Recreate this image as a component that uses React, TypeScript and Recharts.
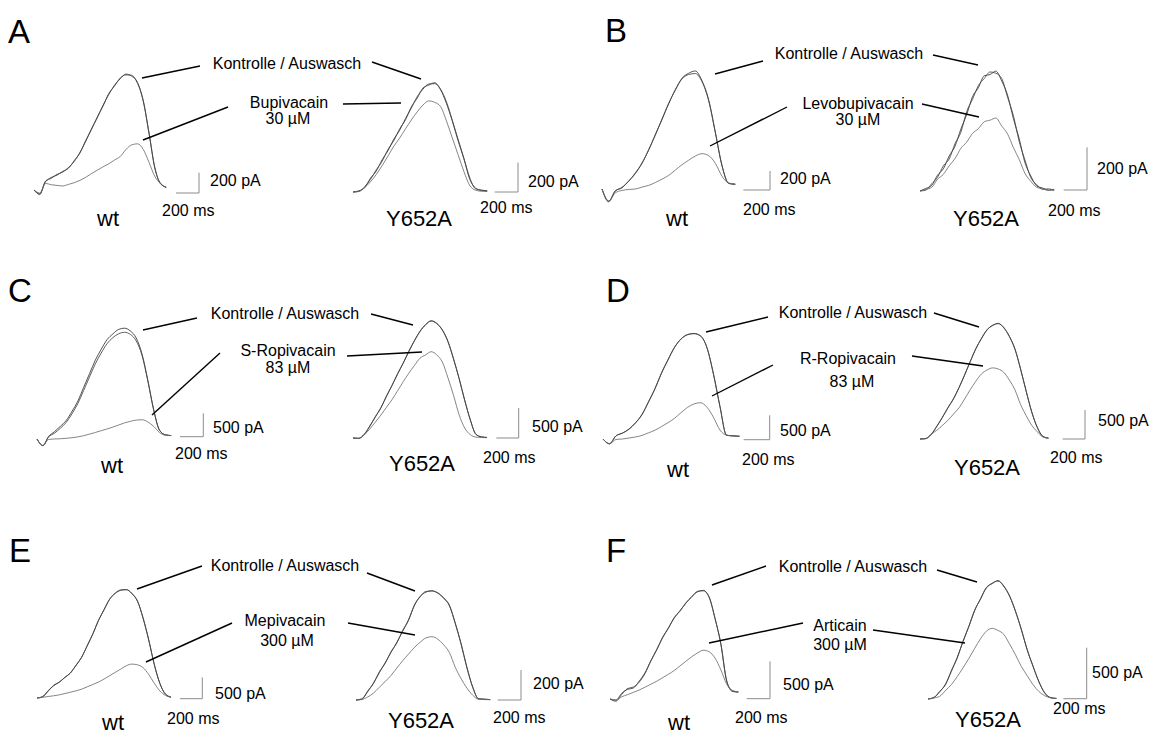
import { LineChart, Line, XAxis, YAxis, ReferenceLine } from "recharts";

// shared sampling grid of the ramp recordings (ms)
const TIME_MS = [0, 50, 100, 150, 200, 250, 300, 350, 400, 450, 500, 550, 600, 650, 700, 750, 800, 850, 900, 950, 1000, 1050, 1100, 1150, 1200];

const PANEL_LETTERS = ["A", "B", "C", "D", "E", "F"];
const DRUGS = ["Bupivacain", "Levobupivacain", "S-Ropivacain", "R-Ropivacain", "Mepivacain", "Articain"];
const CONCENTRATIONS = ["30 µM", "30 µM", "83 µM", "83 µM", "300 µM", "300 µM"];
const CELL_NAMES = ["wt", "Y652A"];
const CONTROL_LABEL = "Kontrolle / Auswasch";
const TIME_BAR_MS = 200;
// current scale bars (pA) for [wt, Y652A] in each panel
const CURRENT_BARS_PA = [[200, 200], [200, 200], [500, 500], [500, 500], [500, 200], [500, 500]];

// currents in pA, sampled on TIME_MS
const A_WT_CTRL = [0, -45, 88, 115, 154, 176, 222, 282, 372, 480, 604, 711, 834, 941, 1032, 1096, 1142, 1121, 1060, 872, 565, 218, 66, 25];
const A_WT_WASH = [0, -35, 80, 124, 146, 184, 214, 290, 365, 489, 595, 720, 826, 950, 1024, 1104, 1134, 1130, 1050, 884, 556, 226, 60, 30];
const A_WT_DRUG = [0, -30, 65, 52, 45, 40, 55, 72, 95, 125, 162, 195, 228, 258, 295, 330, 400, 445, 455, 400, 273, 135, 65, 25];
const A_Y_CTRL = [0, 8, 30, 94, 143, 220, 281, 360, 420, 500, 571, 648, 700, 735, 737, 696, 604, 486, 350, 227, 88, 27, 10, 9];
const A_Y_WASH = [0, 3, 36, 86, 152, 210, 290, 350, 430, 491, 580, 638, 708, 727, 744, 700, 615, 490, 360, 230, 98, 22, 14, 6];
const A_Y_DRUG = [0, 5, 30, 70, 120, 180, 245, 312, 367, 430, 490, 545, 592, 620, 610, 582, 485, 370, 255, 140, 45, 12, 5, 3];

const B_WT_CTRL = [0, -135, -18, 12, 85, 162, 275, 408, 574, 730, 902, 1040, 1166, 1218, 1242, 1140, 940, 600, 250, 58, 48];
const B_WT_WASH = [0, -125, -22, 18, 80, 170, 268, 415, 566, 738, 895, 1047, 1158, 1205, 1215, 1130, 930, 595, 245, 62, 52];
const B_WT_DRUG = [0, -130, -40, -15, -5, 0, 20, 38, 68, 103, 143, 199, 255, 303, 347, 372, 351, 271, 135, 62, 50];
const B_Y_CTRL = [0, 12, 26, 74, 104, 164, 210, 290, 358, 442, 484, 540, 546, 562, 516, 450, 340, 245, 132, 70, 24, 14, 4, 8];
const B_Y_WASH = [0, 4, 34, 64, 118, 150, 222, 275, 372, 430, 494, 527, 558, 552, 528, 440, 354, 232, 144, 62, 30, 8, 10, 2];
const B_Y_DRUG = [0, 7, 17, 55, 78, 118, 152, 200, 229, 270, 292, 324, 332, 342, 305, 268, 204, 148, 82, 45, 17, 10, 3, 5];

const C_WT_CTRL = [0, -140, 58, 157, 271, 396, 592, 812, 1106, 1398, 1689, 1920, 2126, 2250, 2347, 2373, 2313, 2163, 1819, 1255, 627, 189, 91, 74];
const C_WT_WASH = [0, -140, 45, 125, 230, 355, 540, 760, 1040, 1330, 1610, 1840, 2040, 2170, 2255, 2285, 2240, 2100, 1790, 1240, 620, 185, 90, 73];
const C_WT_DRUG = [0, -140, -10, 0, 5, 15, 28, 45, 71, 105, 140, 178, 214, 255, 300, 345, 378, 405, 412, 365, 270, 138, 80, 72];
const C_Y_CTRL = [0, -5, 57, 199, 349, 508, 695, 882, 1068, 1254, 1440, 1625, 1774, 1892, 1949, 1906, 1804, 1605, 1322, 988, 633, 301, 65, 18, 10];
const C_Y_WASH = [0, -8, 62, 192, 356, 500, 702, 875, 1075, 1246, 1448, 1618, 1782, 1885, 1955, 1912, 1796, 1612, 1315, 995, 626, 308, 60, 20, 8];
const C_Y_DRUG = [0, -5, 50, 150, 265, 383, 512, 641, 789, 940, 1081, 1208, 1331, 1385, 1438, 1385, 1265, 1004, 712, 388, 167, 56, 15, 8, 5];

const D_WT_CTRL = [0, -100, 66, 119, 205, 328, 506, 758, 1038, 1349, 1629, 1877, 2055, 2140, 2168, 2115, 1876, 1327, 668, 77, 66, 55];
const D_WT_WASH = [0, -95, 62, 124, 200, 335, 498, 765, 1030, 1357, 1622, 1884, 2050, 2146, 2162, 2120, 1870, 1334, 660, 80, 63, 57];
const D_WT_DRUG = [0, -100, -10, 0, 20, 41, 74, 127, 180, 255, 335, 424, 541, 649, 720, 745, 651, 444, 183, 78, 62, 55];
const D_Y_CTRL = [0, 8, 81, 214, 375, 536, 697, 886, 1110, 1334, 1560, 1729, 1885, 1955, 1995, 1916, 1772, 1548, 1212, 825, 471, 197, 50, 12];
const D_Y_WASH = [0, 6, 76, 220, 368, 542, 690, 893, 1102, 1340, 1552, 1736, 1878, 1962, 1988, 1924, 1765, 1555, 1205, 832, 464, 204, 40, 18];
const D_Y_DRUG = [0, 5, 82, 150, 233, 322, 430, 539, 691, 851, 996, 1121, 1190, 1226, 1207, 1149, 1016, 848, 597, 405, 237, 124, 35, 12];

const E_WT_CTRL = [0, 33, 172, 288, 375, 480, 592, 765, 960, 1223, 1505, 1810, 2070, 2309, 2456, 2530, 2537, 2450, 2263, 1873, 1359, 789, 339, 92, 20];
const E_WT_WASH = [0, 25, 160, 300, 368, 488, 585, 772, 952, 1230, 1498, 1818, 2062, 2316, 2450, 2522, 2540, 2440, 2270, 1865, 1366, 780, 346, 88, 22];
const E_WT_DRUG = [0, 15, 35, 52, 74, 104, 136, 169, 207, 262, 317, 372, 443, 521, 600, 678, 757, 794, 776, 710, 552, 344, 166, 60, 15];
const E_Y_CTRL = [0, 8, 55, 114, 182, 249, 317, 385, 458, 535, 628, 692, 719, 729, 712, 683, 629, 515, 373, 220, 84, 9, 5, 3];
const E_Y_WASH = [0, 5, 60, 110, 188, 244, 322, 380, 464, 530, 634, 688, 724, 726, 716, 678, 633, 510, 378, 215, 88, 7, 6, 2];
const E_Y_DRUG = [0, 3, 20, 46, 85, 123, 164, 213, 262, 306, 350, 385, 414, 422, 406, 369, 317, 219, 143, 80, 32, 5, 3, 2];

const F_WT_CTRL = [0, -15, 75, 129, 147, 239, 351, 507, 662, 817, 952, 1083, 1183, 1281, 1371, 1435, 1454, 1359, 1081, 732, 238, 106, 94];
const F_WT_WASH = [0, -30, 60, 140, 160, 225, 340, 515, 655, 825, 945, 1090, 1176, 1288, 1364, 1442, 1448, 1365, 1075, 740, 245, 100, 92];
const F_WT_DRUG = [0, -15, 30, 58, 89, 120, 158, 198, 237, 284, 331, 381, 443, 505, 565, 617, 653, 632, 548, 390, 198, 115, 95];
const F_Y_CTRL = [0, 15, 70, 146, 271, 407, 561, 714, 866, 984, 1088, 1136, 1156, 1108, 1005, 862, 678, 486, 319, 173, 58, 15, 5];
const F_Y_WASH = [0, 12, 74, 140, 278, 400, 568, 708, 872, 978, 1094, 1130, 1162, 1102, 1010, 856, 684, 480, 324, 168, 62, 12, 6];
const F_Y_DRUG = [0, 10, 26, 83, 141, 219, 305, 397, 496, 591, 664, 692, 672, 633, 537, 433, 319, 229, 140, 74, 32, 12, 5];

const TRACES = [
  [[A_WT_CTRL, A_WT_WASH, A_WT_DRUG], [A_Y_CTRL, A_Y_WASH, A_Y_DRUG]],
  [[B_WT_CTRL, B_WT_WASH, B_WT_DRUG], [B_Y_CTRL, B_Y_WASH, B_Y_DRUG]],
  [[C_WT_CTRL, C_WT_WASH, C_WT_DRUG], [C_Y_CTRL, C_Y_WASH, C_Y_DRUG]],
  [[D_WT_CTRL, D_WT_WASH, D_WT_DRUG], [D_Y_CTRL, D_Y_WASH, D_Y_DRUG]],
  [[E_WT_CTRL, E_WT_WASH, E_WT_DRUG], [E_Y_CTRL, E_Y_WASH, E_Y_DRUG]],
  [[F_WT_CTRL, F_WT_WASH, F_WT_DRUG], [F_Y_CTRL, F_Y_WASH, F_Y_DRUG]],
];

// placement of each recording: t=0 pixel, baseline pixel, scale, scale-bar corner, labels
type CellLayout = {
  left: number;
  base: number;
  pxPerMs: number;
  pxPerPa: number;
  bar: [number, number];
  paLabel: [number, number];
  msLabel: [number, number];
  name: [number, number];
};

const CELL_LAYOUT: CellLayout[][] = [
  [
    { left: 34, base: 190, pxPerMs: 0.115, pxPerPa: 0.1015, bar: [199, 193], paLabel: [210, 180], msLabel: [162, 210], name: [108, 218] },
    { left: 353, base: 192, pxPerMs: 0.1167, pxPerPa: 0.147, bar: [518, 192], paLabel: [528, 181], msLabel: [480, 207], name: [419, 218] },
  ],
  [
    { left: 602, base: 189, pxPerMs: 0.1333, pxPerPa: 0.095, bar: [770, 190], paLabel: [780, 178], msLabel: [743, 209], name: [677, 218] },
    { left: 920, base: 191, pxPerMs: 0.1167, pxPerPa: 0.2133, bar: [1087, 190], paLabel: [1097, 168], msLabel: [1048, 210], name: [986, 218] },
  ],
  [
    { left: 36.7, base: 439.3, pxPerMs: 0.1167, pxPerPa: 0.0467, bar: [203, 437], paLabel: [213, 427], msLabel: [175, 453], name: [112, 465] },
    { left: 353.3, base: 438, pxPerMs: 0.1117, pxPerPa: 0.06, bar: [519, 438], paLabel: [532, 426], msLabel: [483, 457], name: [422, 463] },
  ],
  [
    { left: 603.3, base: 439.3, pxPerMs: 0.13, pxPerPa: 0.0487, bar: [770, 440], paLabel: [780, 430], msLabel: [742, 459], name: [678, 469] },
    { left: 920, base: 439, pxPerMs: 0.1117, pxPerPa: 0.058, bar: [1085, 439], paLabel: [1098, 420], msLabel: [1050, 457], name: [987, 467] },
  ],
  [
    { left: 36.7, base: 698.3, pxPerMs: 0.1117, pxPerPa: 0.0427, bar: [202, 699], paLabel: [215, 693], msLabel: [167, 718], name: [113, 722] },
    { left: 356, base: 700, pxPerMs: 0.1167, pxPerPa: 0.15, bar: [521, 700], paLabel: [533, 683], msLabel: [493, 717], name: [421, 720] },
  ],
  [
    { left: 610, base: 699.3, pxPerMs: 0.1167, pxPerPa: 0.0747, bar: [770, 699], paLabel: [783, 684], msLabel: [735, 717], name: [679, 722] },
    { left: 928.3, base: 699.3, pxPerMs: 0.1167, pxPerPa: 0.102, bar: [1087, 699], paLabel: [1092, 672], msLabel: [1053, 708], name: [988, 719] },
  ],
];

type PanelLayout = {
  letter: [number, number];
  ctrl: [number, number];
  drug: [number, number];
  conc: [number, number];
  leaders: number[][];
};

const PANEL_LAYOUT: PanelLayout[] = [
  { letter: [8, 43], ctrl: [287, 63], drug: [289, 102], conc: [288, 118],
    leaders: [[142, 78, 200, 66], [372, 62, 421, 79], [143, 140, 228, 107], [343, 104, 401, 103]] },
  { letter: [605, 42], ctrl: [849, 53], drug: [858, 103], conc: [858, 119],
    leaders: [[715, 74, 763, 61], [933, 55, 978, 65], [710, 146, 787, 107], [922, 104, 979, 117]] },
  { letter: [8, 302], ctrl: [285, 313], drug: [288, 350], conc: [288, 367],
    leaders: [[143, 330, 197, 318], [371, 314, 413, 325], [152, 415, 220, 353], [347, 356, 422, 352]] },
  { letter: [606, 302], ctrl: [853, 312], drug: [848, 358], conc: [852, 381],
    leaders: [[706, 332, 768, 317], [934, 313, 979, 327], [712, 396, 773, 365], [912, 356, 983, 366]] },
  { letter: [9, 562], ctrl: [285, 565], drug: [285, 620], conc: [287, 640],
    leaders: [[137, 589, 202, 566], [367, 573, 415, 591], [146, 662, 232, 623], [348, 623, 415, 635]] },
  { letter: [606, 562], ctrl: [853, 566], drug: [840, 625], conc: [840, 644],
    leaders: [[712, 585, 766, 566], [937, 570, 977, 582], [709, 643, 803, 623], [873, 630, 965, 643]] },
];

const FONT = "'Liberation Sans', Arial, Helvetica, sans-serif";
const HEAD = 140; // px above baseline inside each trace chart
const FOOT = 30;
const PAD_L = 14;
const TRACE_STYLE = [
  { stroke: "#333", width: 0.85 },
  { stroke: "#444", width: 0.85 },
  { stroke: "#666", width: 0.8 },
];

const toRows = (values: number[]) => values.map((v, i) => ({ t: TIME_MS[i], pA: v }));

function TraceCell({ layout, traces, barPa }: { layout: CellLayout; traces: number[][]; barPa: number }) {
  const width = layout.bar[0] - layout.left + PAD_L + 4;
  const height = HEAD + FOOT;
  const xDomain = [-PAD_L / layout.pxPerMs, (width - PAD_L) / layout.pxPerMs];
  const yDomain = [-FOOT / layout.pxPerPa, HEAD / layout.pxPerPa];
  const barT = (layout.bar[0] - layout.left) / layout.pxPerMs;
  const barI = (layout.base - layout.bar[1]) / layout.pxPerPa;
  return (
    <div style={{ position: "absolute", left: layout.left - PAD_L, top: layout.base - HEAD }}>
      <LineChart width={width} height={height} margin={{ top: 0, right: 0, bottom: 0, left: 0 }}>
        <XAxis type="number" dataKey="t" domain={xDomain} hide allowDataOverflow />
        <YAxis type="number" dataKey="pA" domain={yDomain} hide allowDataOverflow />
        {traces.map((values, k) => (
          <Line
            key={k}
            data={toRows(values)}
            dataKey="pA"
            type="monotone"
            stroke={TRACE_STYLE[k].stroke}
            strokeWidth={TRACE_STYLE[k].width}
            dot={false}
            activeDot={false}
            isAnimationActive={false}
          />
        ))}
        <ReferenceLine
          segment={[{ x: barT - TIME_BAR_MS, y: barI }, { x: barT, y: barI }]}
          stroke="#8c8c8c"
          strokeWidth={1}
          ifOverflow="visible"
        />
        <ReferenceLine
          segment={[{ x: barT, y: barI }, { x: barT, y: barI + barPa }]}
          stroke="#8c8c8c"
          strokeWidth={1}
          ifOverflow="visible"
        />
      </LineChart>
    </div>
  );
}

export default function App() {
  return (
    <div style={{ position: "absolute", left: 0, top: 0, width: 1155, height: 734, background: "#fff", overflow: "hidden" }}>
      {TRACES.map((panel, p) =>
        panel.map((traces, c) => (
          <TraceCell key={`${p}-${c}`} layout={CELL_LAYOUT[p][c]} traces={traces} barPa={CURRENT_BARS_PA[p][c]} />
        ))
      )}
      <svg width={1155} height={734} style={{ position: "absolute", left: 0, top: 0, pointerEvents: "none" }} fontFamily={FONT}>
        {PANEL_LAYOUT.map((pl, p) => (
          <g key={p}>
            <text x={pl.letter[0]} y={pl.letter[1]} fontSize={33} fill="#000">{PANEL_LETTERS[p]}</text>
            <text x={pl.ctrl[0]} y={pl.ctrl[1]} fontSize={16} textAnchor="middle" dominantBaseline="central">{CONTROL_LABEL}</text>
            <text x={pl.drug[0]} y={pl.drug[1]} fontSize={16} textAnchor="middle" dominantBaseline="central">{DRUGS[p]}</text>
            <text x={pl.conc[0]} y={pl.conc[1]} fontSize={16} textAnchor="middle" dominantBaseline="central">{CONCENTRATIONS[p]}</text>
            {pl.leaders.map((l, i) => (
              <line key={i} x1={l[0]} y1={l[1]} x2={l[2]} y2={l[3]} stroke="#000" strokeWidth={1.4} />
            ))}
            {CELL_LAYOUT[p].map((cl, c) => (
              <g key={c}>
                <text x={cl.paLabel[0]} y={cl.paLabel[1]} fontSize={16} dominantBaseline="central">{`${CURRENT_BARS_PA[p][c]} pA`}</text>
                <text x={cl.msLabel[0]} y={cl.msLabel[1]} fontSize={16} dominantBaseline="central">{`${TIME_BAR_MS} ms`}</text>
                <text x={cl.name[0]} y={cl.name[1]} fontSize={22} textAnchor="middle" dominantBaseline="central">{CELL_NAMES[c]}</text>
              </g>
            ))}
          </g>
        ))}
      </svg>
    </div>
  );
}
